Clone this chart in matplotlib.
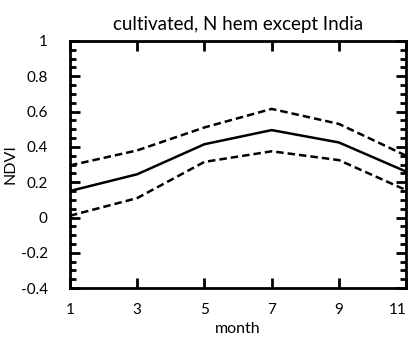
import numpy as np
import matplotlib
matplotlib.use("Agg")
import matplotlib.pyplot as plt
import matplotlib.transforms as mtransforms
from matplotlib.ticker import MultipleLocator

# values
month = [1, 3, 5, 7, 9, 11]
ndvi_mean = [0.15, 0.245, 0.415, 0.495, 0.425, 0.26]
ndvi_upper = [0.295, 0.38, 0.51, 0.615, 0.53, 0.35]
ndvi_lower = [0.01, 0.11, 0.315, 0.375, 0.325, 0.155]
yticks = [-0.4, -0.2, 0, 0.2, 0.4, 0.6, 0.8, 1]
ytick_labels = ['-0.4', '-0.2', '0', '0.2', '0.4', '0.6', '0.8', '1']

plt.rcParams['font.family'] = ['Lato', 'DejaVu Sans']

fig = plt.figure(figsize=(4.14, 3.41), dpi=100)
ax = fig.add_axes([0.169, 0.155, 0.812, 0.725])

ax.plot(month, ndvi_mean, color='black', lw=1.8)
ax.plot(month, ndvi_upper, color='black', lw=1.8, ls=(0, (3, 1.6)))
ax.plot(month, ndvi_lower, color='black', lw=1.8, ls=(0, (3, 1.6)))

ax.set_xlim(1, 11)
ax.set_ylim(-0.4, 1)
ax.set_xticks(month)
ax.set_yticks(yticks)
ax.set_yticklabels(ytick_labels)
ax.yaxis.set_minor_locator(MultipleLocator(0.05))

for s in ax.spines.values():
    s.set_linewidth(2)
ax.tick_params(which='both', direction='in', top=True, right=True,
               labelsize=11, width=2)
ax.tick_params(axis='y', pad=16)
ax.tick_params(axis='x', pad=11)
ax.tick_params(which='major', length=7)
ax.tick_params(which='minor', length=4)

# last x label sits just inside the figure edge, as in the original
last = ax.get_xticklabels()[-1]
last.set_transform(last.get_transform() +
                   mtransforms.ScaledTranslation(-8 / 100, 0, fig.dpi_scale_trans))

ax.set_xlabel('month', fontsize=11.5, labelpad=3)
ax.set_ylabel('NDVI', fontsize=11.5, labelpad=2)
ax.set_title('cultivated, N hem except India', fontsize=13.5, pad=8)

fig.savefig('out.png', dpi=100)
